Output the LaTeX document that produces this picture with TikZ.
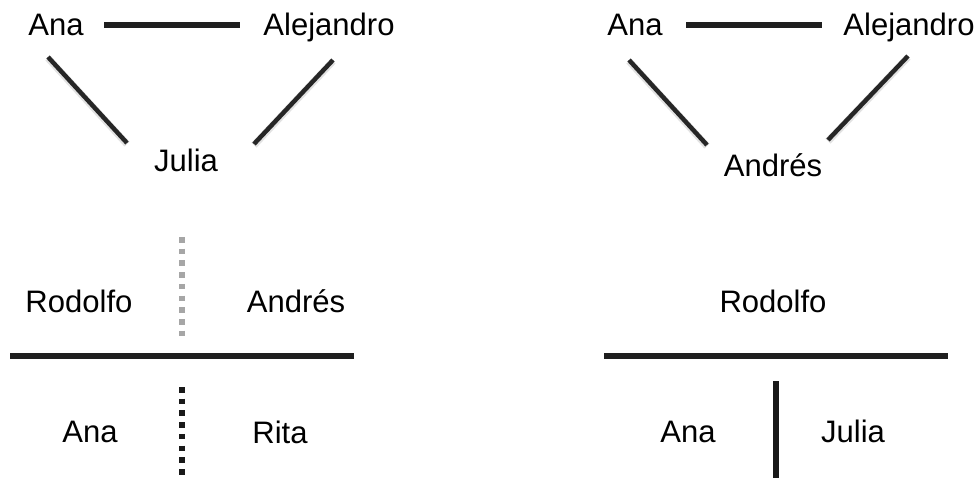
\documentclass[tikz,border=0pt]{standalone}
\usepackage{fontspec}
\setmainfont{Liberation Sans}

\tikzset{
    person/.style={anchor=base, inner sep=0pt, font=\fontsize{26.5}{30}\selectfont},
    tie/.style={line width=4.4pt, color=black!88},
    slash/.style={line width=3.8pt, color=black!85},
    shade/.style={line width=6pt, color=black!25, opacity=0.45},
    dotline/.style={line width=5pt, dash pattern=on 4.8pt off 5.2pt},
}

\begin{document}
\begin{tikzpicture}[x=0.03cm, y=-0.03cm]
    \useasboundingbox (0,0) rectangle (980,483);

    % left: triangle
    \node[person] (ana) at (56,36) {Ana};
    \node[person] (alejandro) at (329,36) {Alejandro};
    \node[person] (julia) at (186,172) {Julia};
    \coordinate (t1) at (104,25);
    \coordinate (t2) at (240,25);
    \coordinate (s1) at (48,57);
    \coordinate (s2) at (127,143);
    \coordinate (s3) at (333,60);
    \coordinate (s4) at (254,144);
    \draw[tie] (t1) -- (t2);
    \draw[shade, transform canvas={yshift=-1pt}] (s1) -- (s2);
    \draw[shade, transform canvas={yshift=-1pt}] (s3) -- (s4);
    \draw[slash] (s1) -- (s2);
    \draw[slash] (s3) -- (s4);

    % left: two rows split by a bar
    \node[person] (rodolfo) at (79,312) {Rodolfo};
    \node[person] (andres) at (296,312) {Andrés};
    \node[person] (anab) at (90,442) {Ana};
    \node[person] (rita) at (280,443) {Rita};
    \coordinate (b1) at (10,356);
    \coordinate (b2) at (354,356);
    \coordinate (g1) at (182,237);
    \coordinate (g2) at (182,336);
    \coordinate (k1) at (182,387);
    \coordinate (k2) at (182,480);
    \draw[line width=4.8pt, color=black!88] (b1) -- (b2);
    \draw[dotline, color=black!35] (g1) -- (g2);
    \draw[dotline, color=black!90] (k1) -- (k2);

    % right: triangle
    \node[person] (anar) at (635,36) {Ana};
    \node[person] (alejandror) at (909,36) {Alejandro};
    \node[person] (andresr) at (773,177) {Andrés};
    \coordinate (r1) at (686,25);
    \coordinate (r2) at (822,25);
    \coordinate (q1) at (629,60);
    \coordinate (q2) at (707,145);
    \coordinate (q3) at (908,56);
    \coordinate (q4) at (828,140);
    \draw[tie] (r1) -- (r2);
    \draw[shade, transform canvas={yshift=-1pt}] (q1) -- (q2);
    \draw[shade, transform canvas={yshift=-1pt}] (q3) -- (q4);
    \draw[slash] (q1) -- (q2);
    \draw[slash] (q3) -- (q4);

    % right: Rodolfo over the bar
    \node[person] (rodolfor) at (773,312) {Rodolfo};
    \node[person] (anarb) at (688,442) {Ana};
    \node[person] (juliar) at (853,442) {Julia};
    \coordinate (c1) at (604,356);
    \coordinate (c2) at (948,356);
    \coordinate (v1) at (776,381);
    \coordinate (v2) at (776,478);
    \draw[line width=4.8pt, color=black!88] (c1) -- (c2);
    \draw[line width=5.4pt, color=black!90] (v1) -- (v2);
\end{tikzpicture}
\end{document}
